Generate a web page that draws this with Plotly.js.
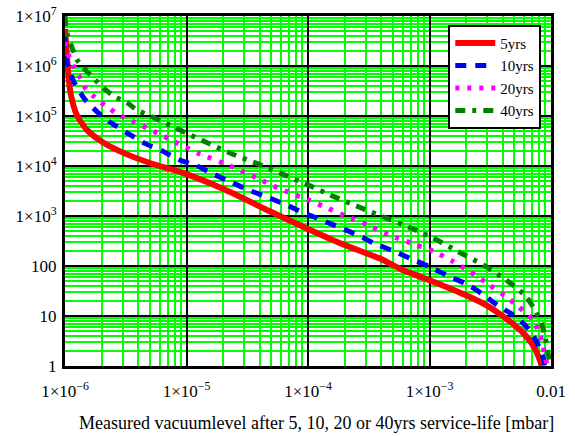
<!DOCTYPE html>
<html>
<head>
<meta charset="utf-8">
<script src="https://cdn.plot.ly/plotly-3.0.1.min.js"></script>
<style>html,body{margin:0;padding:0;background:#fff;}#chart{width:575px;height:436px;}</style>
</head>
<body>
<div id="chart"></div>
<script>
// 5 yrs
const x5 = [1e-6, 1.03e-6, 1.07e-6, 1.12e-6, 1.25e-6, 1.5e-6, 2e-6, 3e-6, 5e-6, 1e-5, 2e-5, 5e-5, 1e-4, 2e-4, 4e-4, 6e-4, 1e-3, 2e-3, 3e-3, 4e-3, 5e-3, 6e-3, 7e-3, 7.6e-3, 8.2e-3, 8.4e-3];
const y5 = [5.5e6, 2.0e6, 6.0e5, 2.6e5, 1.05e5, 5.4e4, 3.1e4, 1.85e4, 1.15e4, 6.9e3, 3.5e3, 1.2e3, 550, 263, 138, 83, 52, 26, 16, 10, 6.6, 4.4, 2.75, 1.9, 1.2, 1.0];
// 10 yrs
const x10 = [1e-6, 1.02e-6, 1.18e-6, 1.47e-6, 1.9e-6, 2.44e-6, 3.34e-6, 4.58e-6, 6.2e-6, 8.7e-6, 1.22e-5, 1.62e-5, 2.3e-5, 3.35e-5, 4.6e-5, 6.5e-5, 9.1e-5, 1.3e-4, 1.83e-4, 2.6e-4, 3.45e-4, 4.9e-4, 6.9e-4, 1e-3, 1.42e-3, 2e-3, 2.7e-3, 3.6e-3, 4.86e-3, 6.1e-3, 7.5e-3, 8.6e-3, 8.9e-3];
const y10 = [4e6, 1.4e6, 4.9e5, 2.1e5, 1.13e5, 7.1e4, 4.4e4, 2.8e4, 2.05e4, 1.33e4, 1e4, 7.1e3, 4.8e3, 3.2e3, 2.4e3, 1.7e3, 1.17e3, 830, 585, 410, 290, 205, 143, 97, 63, 44, 28, 16.6, 10.5, 6.6, 3.3, 1.5, 1.0];
// 20 yrs
const x20 = [1e-6, 1.07e-6, 1.18e-6, 1.34e-6, 1.47e-6, 1.75e-6, 2.15e-6, 2.95e-6, 3.67e-6, 5.4e-6, 8.6e-6, 1.25e-5, 2.3e-5, 3.78e-5, 5.7e-5, 1e-4, 1.46e-4, 2.07e-4, 3.13e-4, 4.3e-4, 5.5e-4, 7.8e-4, 1.1e-3, 1.57e-3, 2.15e-3, 3.1e-3, 4.3e-3, 5.3e-3, 7.1e-3, 7.9e-3, 8.5e-3, 8.9e-3, 9.3e-3];
const y20 = [3e6, 1.66e6, 9.7e5, 5.7e5, 3.6e5, 2.4e5, 1.6e5, 9.7e4, 7.7e4, 4.9e4, 2.8e4, 1.8e4, 1e4, 5.8e3, 3.6e3, 2.1e3, 1.43e3, 980, 660, 455, 358, 263, 193, 122, 77, 42, 24, 16, 8.3, 4.9, 2.9, 1.7, 1.0];
// 40 yrs
const x40 = [1e-6, 1.04e-6, 1.15e-6, 1.26e-6, 1.52e-6, 1.78e-6, 2.08e-6, 2.52e-6, 3.24e-6, 3.9e-6, 5.04e-6, 7.8e-6, 1.07e-5, 1.42e-5, 2.3e-5, 3.78e-5, 5.9e-5, 1e-4, 1.6e-4, 2.6e-4, 4.2e-4, 7.1e-4, 1.08e-3, 1.73e-3, 2.77e-3, 4.3e-3, 6.2e-3, 7.4e-3, 8.4e-3, 9.0e-3, 9.5e-3, 9.8e-3];
const y40 = [1e7, 4.5e6, 2.26e6, 1.32e6, 7.7e5, 5.2e5, 3.6e5, 2.5e5, 1.85e5, 1.32e5, 1e5, 6.1e4, 4.2e4, 3.06e4, 1.8e4, 1.13e4, 7.2e3, 4.2e3, 2.5e3, 1.53e3, 950, 570, 358, 193, 105, 52, 25, 13, 6.8, 3.5, 1.7, 1.0];

const seriesNames = ["5yrs", "10yrs", "20yrs", "40yrs"];

const xTickVals = [1e-6, 1e-5, 1e-4, 1e-3, 1e-2];
const xTickText = ["1×10<sup>−6</sup>", "1×10<sup>−5</sup>", "1×10<sup>−4</sup>", "1×10<sup>−3</sup>", "0.01"];
const yTickVals = [1, 10, 100, 1e3, 1e4, 1e5, 1e6, 1e7];
const yTickText = ["1", "10", "100", "1×10<sup>3</sup>", "1×10<sup>4</sup>", "1×10<sup>5</sup>", "1×10<sup>6</sup>", "1×10<sup>7</sup>"];

const xTitle = "Measured vacuumlevel after 5, 10, 20 or 40yrs service-life [mbar]";

const FONT = "Liberation Serif";

const traces = [
  {x: x5, y: y5, name: seriesNames[0], mode: "lines", line: {color: "#ff0000", width: 6, shape: "spline", smoothing: 0.6}},
  {x: x10, y: y10, name: seriesNames[1], mode: "lines", line: {color: "#0000ff", width: 5, dash: "11px,9px", shape: "spline", smoothing: 0.6}},
  {x: x20, y: y20, name: seriesNames[2], mode: "lines", line: {color: "#ff00ff", width: 5, dash: "4px,8px", shape: "spline", smoothing: 0.6}},
  {x: x40, y: y40, name: seriesNames[3], mode: "lines", line: {color: "#008000", width: 5, dash: "10px,7px,4px,7px", shape: "spline", smoothing: 0.6}}
];

const layout = {
  width: 575, height: 436,
  margin: {l: 64.5, r: 23.5, t: 16, b: 70},
  paper_bgcolor: "#ffffff", plot_bgcolor: "#ffffff",
  font: {family: FONT, size: 17, color: "#000"},
  showlegend: true,
  legend: {
    x: 0.98, y: 0.975, xanchor: "right", yanchor: "top",
    bgcolor: "#ffffff", bordercolor: "#000", borderwidth: 2,
    font: {family: FONT, size: 15, color: "#000"},
    tracegroupgap: 0, itemwidth: 40
  },
  xaxis: {
    type: "log", range: [-6, -2],
    tickvals: xTickVals, ticktext: xTickText,
    ticks: "", ticklen: 0, ticklabelstandoff: 8,
    showgrid: true, gridcolor: "#000", gridwidth: 2,
    minor: {dtick: "D1", showgrid: true, gridcolor: "#00ff00", gridwidth: 2, ticks: ""},
    showline: true, mirror: true, linecolor: "#000", linewidth: 3,
    zeroline: false,
    tickfont: {family: FONT, size: 17}
  },
  yaxis: {
    type: "log", range: [0, 7],
    tickvals: yTickVals, ticktext: yTickText,
    ticks: "", ticklen: 0, ticklabelstandoff: 2,
    showgrid: true, gridcolor: "#000", gridwidth: 2,
    minor: {dtick: "D1", showgrid: true, gridcolor: "#00ff00", gridwidth: 2, ticks: ""},
    showline: true, mirror: true, linecolor: "#000", linewidth: 3,
    zeroline: false,
    tickfont: {family: FONT, size: 17}
  },
  annotations: [{
    text: xTitle, xref: "paper", yref: "paper", x: 0.518, y: 0,
    xanchor: "center", yanchor: "middle", yshift: -57, showarrow: false,
    font: {family: FONT, size: 18, color: "#000"}
  }]
};

Plotly.newPlot("chart", traces, layout, {staticPlot: true, displayModeBar: false});
</script>
</body>
</html>
